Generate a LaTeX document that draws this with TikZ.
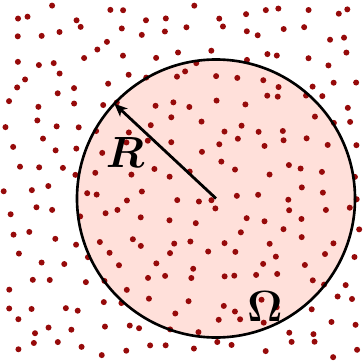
\documentclass[tikz,border=0pt]{standalone}
\usepackage{amsmath}
\usetikzlibrary{arrows.meta,calc}
\definecolor{diskfill}{RGB}{255,224,218}
\definecolor{dotred}{RGB}{150,10,10}
\tikzset{dot/.style={fill=dotred}}

\begin{document}
\begin{tikzpicture}[x=0.02cm,y=0.02cm]
        \useasboundingbox (0,0) rectangle (364,362);
        \coordinate (O) at (216,163.5);
        \fill[diskfill] (O) circle (139);
        \pgfmathsetseed{4217}
        % jittered grid of points
        \foreach \i in {0,...,15}{
            \foreach \j in {0,...,15}{
                \pgfmathsetmacro{\px}{(\i+0.1+0.8*rnd)*22.75}
                \pgfmathsetmacro{\py}{(\j+0.1+0.8*rnd)*22.6}
                \fill[dot] (\px,\py) circle (3);
            }
        }
        \draw[line width=1.5pt] (O) circle (139);
        \coordinate (T) at ($(O)+(137:139)$);
        \draw[line width=1.6pt,-{Stealth[length=0.26cm,width=0.22cm,inset=0.07cm]}] (O) -- (T);
        \node (R) at (125,209.5) {\Huge$\boldsymbol{R}$};
        \node (W) at (265,55.5) {\Huge$\boldsymbol{\Omega}$};
    \end{tikzpicture}
\end{document}
